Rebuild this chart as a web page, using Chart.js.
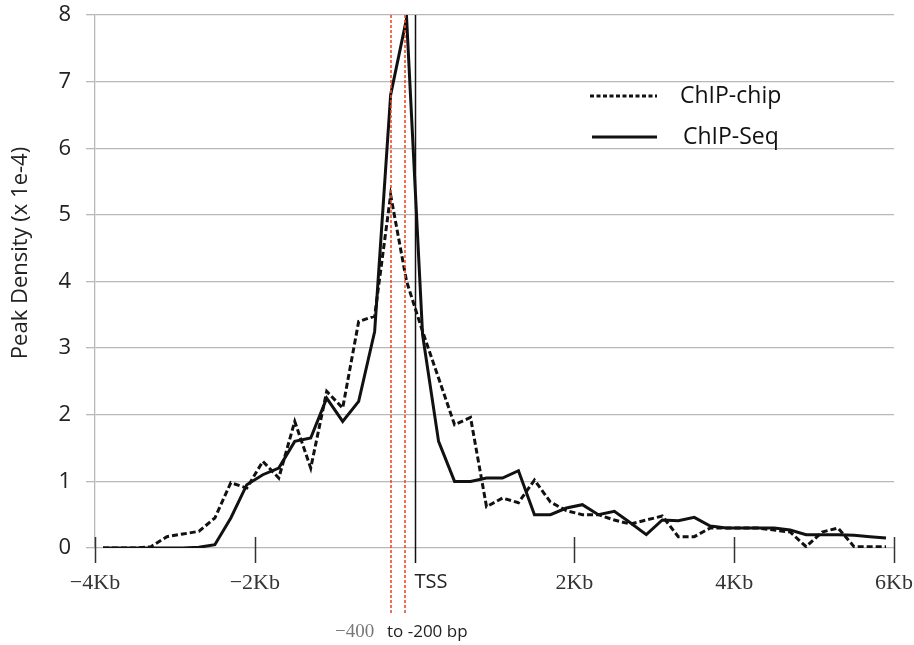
<!DOCTYPE html>
<html>
<head>
<meta charset="utf-8">
<script src="https://cdn.jsdelivr.net/npm/chart.js@4.4.0/dist/chart.umd.min.js"></script>
<style>
  html, body { margin: 0; padding: 0; background: #fff; }
  #wrap { width: 914px; height: 645px; position: relative; }
</style>
</head>
<body>
<div id="wrap"><canvas id="peakChart"></canvas></div>
<script>
// bin centres, in Kb relative to the TSS
const binKb = [
  -3.9, -3.7, -3.5, -3.3, -3.1, -2.9, -2.7, -2.5, -2.3, -2.1,
  -1.9, -1.7, -1.5, -1.3, -1.1, -0.9, -0.7, -0.5, -0.3, -0.1,
   0.1,  0.3,  0.5,  0.7,  0.9,  1.1,  1.3,  1.5,  1.7,  1.9,
   2.1,  2.3,  2.5,  2.7,  2.9,  3.1,  3.3,  3.5,  3.7,  3.9,
   4.1,  4.3,  4.5,  4.7,  4.9,  5.1,  5.3,  5.5,  5.7,  5.9
];

// peak density (x 1e-4)
const chipChip = [
  0, 0, 0, 0.02, 0.17, 0.21, 0.25, 0.45, 0.98, 0.9,
  1.3, 1.05, 1.9, 1.2, 2.35, 2.1, 3.4, 3.48, 5.3, 4.0,
  3.25, 2.55, 1.85, 1.96, 0.62, 0.75, 0.68, 1.02, 0.69, 0.56,
  0.5, 0.5, 0.42, 0.36, 0.42, 0.48, 0.17, 0.17, 0.3, 0.3,
  0.3, 0.3, 0.27, 0.24, 0.02, 0.24, 0.3, 0.02, 0.02, 0.02
];

const chipSeq = [
  0, 0, 0, 0, 0, 0, 0.01, 0.05, 0.45, 0.95,
  1.1, 1.2, 1.6, 1.65, 2.25, 1.9, 2.2, 3.25, 6.8, 7.95,
  3.2, 1.6, 1.0, 1.0, 1.05, 1.05, 1.16, 0.5, 0.5, 0.6,
  0.65, 0.5, 0.55, 0.38, 0.2, 0.42, 0.41, 0.46, 0.33, 0.3,
  0.3, 0.3, 0.3, 0.27, 0.2, 0.2, 0.2, 0.19, 0.17, 0.15
];

const xTicks = [-4, -2, 0, 2, 4, 6];
const yTicks = [0, 1, 2, 3, 4, 5, 6, 7, 8];
// red dashed window around the peak
const windowKb = [-0.3, -0.125];

const SANS = '"Open Sans", "DejaVu Sans", sans-serif';
const SERIF = '"Liberation Serif", "DejaVu Serif", serif';

function kbLabel(v) {
  if (v === 0) return '';
  return (v < 0 ? '\u2212' : '') + Math.abs(v) + 'Kb';
}

// tick marks, TSS line, red window, axis title, legend and footnote
const extras = {
  id: 'extras',
  afterDatasetsDraw(chart) {
    const ctx = chart.ctx;
    const xs = chart.scales.x, ys = chart.scales.y;
    const y0 = ys.getPixelForValue(0);
    const yTop = ys.getPixelForValue(8);
    ctx.save();

    ctx.strokeStyle = '#333';
    ctx.lineWidth = 1.5;
    xTicks.forEach(v => {
      if (v === 0) return;
      const px = Math.round(xs.getPixelForValue(v)) + 0.5;
      ctx.beginPath();
      ctx.moveTo(px, y0 - 11);
      ctx.lineTo(px, y0 + 15);
      ctx.stroke();
    });

    const xt = Math.round(xs.getPixelForValue(0)) + 0.5;
    ctx.strokeStyle = '#111';
    ctx.beginPath();
    ctx.moveTo(xt, yTop);
    ctx.lineTo(xt, y0 + 15);
    ctx.stroke();

    ctx.strokeStyle = '#f04a25';
    ctx.lineWidth = 1.6;
    ctx.setLineDash([3, 2]);
    windowKb.forEach(v => {
      const px = Math.round(xs.getPixelForValue(v));
      ctx.beginPath();
      ctx.moveTo(px, yTop);
      ctx.lineTo(px, 615);
      ctx.stroke();
    });
    ctx.setLineDash([]);

    ctx.fillStyle = '#222';
    ctx.font = '20px ' + SANS;
    ctx.textAlign = 'left';
    ctx.textBaseline = 'middle';
    ctx.fillText('TSS', xt - 1, 582);

    ctx.font = '19px ' + SERIF;
    ctx.fillStyle = '#777';
    ctx.fillText('\u2212400', 335, 632);
    ctx.font = '17px ' + SANS;
    ctx.fillStyle = '#222';
    ctx.fillText('to -200 bp', 387, 632);

    // y axis title
    ctx.save();
    ctx.translate(21, 253);
    ctx.rotate(-Math.PI / 2);
    ctx.textAlign = 'center';
    ctx.font = '22px ' + SANS;
    ctx.fillStyle = '#222';
    ctx.fillText('Peak Density (x 1e-4)', 0, 0);
    ctx.restore();

    // legend
    const rows = [[96, 590, 680], [137, 592, 683]];
    chart.data.datasets.forEach((ds, i) => {
      const [ly, lx, tx] = rows[i];
      ctx.strokeStyle = ds.borderColor;
      ctx.lineWidth = 3;
      ctx.setLineDash(ds.borderDash ? [4, 2.5] : []);
      ctx.beginPath();
      ctx.moveTo(lx, ly);
      ctx.lineTo(657, ly);
      ctx.stroke();
      ctx.setLineDash([]);
      ctx.fillStyle = '#111';
      ctx.font = '23px ' + SANS;
      ctx.fillText(ds.label, tx, ly);
    });
    ctx.restore();
  }
};

new Chart(document.getElementById('peakChart'), {
  type: 'line',
  data: {
    datasets: [{
      label: 'ChIP-chip',
      data: binKb.map((x, i) => ({ x: x, y: chipChip[i] })),
      borderColor: '#111',
      borderWidth: 3,
      borderDash: [6, 3],
      pointRadius: 0,
      tension: 0,
      fill: false
    }, {
      label: 'ChIP-Seq',
      data: binKb.map((x, i) => ({ x: x, y: chipSeq[i] })),
      borderColor: '#111',
      borderWidth: 3,
      pointRadius: 0,
      tension: 0,
      fill: false
    }]
  },
  options: {
    responsive: true,
    maintainAspectRatio: false,
    animation: false,
    events: [],
    layout: { padding: { top: 15, right: 20, left: 0, bottom: 0 } },
    plugins: { legend: { display: false }, tooltip: { enabled: false } },
    scales: {
      x: {
        type: 'linear',
        min: -4,
        max: 6,
        afterBuildTicks(s) { s.ticks = xTicks.map(v => ({ value: v })); },
        afterFit(s) { s.height = 97; s.paddingLeft = 0; s.paddingRight = 0; },
        grid: { display: false, drawTicks: false },
        border: { display: false },
        ticks: {
          padding: 22,
          maxRotation: 0,
          autoSkip: false,
          color: '#333',
          font: { family: SERIF, size: 22 },
          callback: v => kbLabel(v)
        }
      },
      y: {
        min: 0,
        max: 8,
        afterBuildTicks(s) { s.ticks = yTicks.map(v => ({ value: v })); },
        afterFit(s) { s.width = 95; s.paddingTop = 0; s.paddingBottom = 0; },
        grid: { color: '#b8b8b8', lineWidth: 1.3, tickLength: 9 },
        border: { display: true, color: '#b8b8b8', width: 1.3 },
        ticks: {
          padding: 15,
          color: '#222',
          font: { family: SANS, size: 22 }
        },
        title: { display: false }
      }
    }
  },
  plugins: [extras]
});
</script>
</body>
</html>
